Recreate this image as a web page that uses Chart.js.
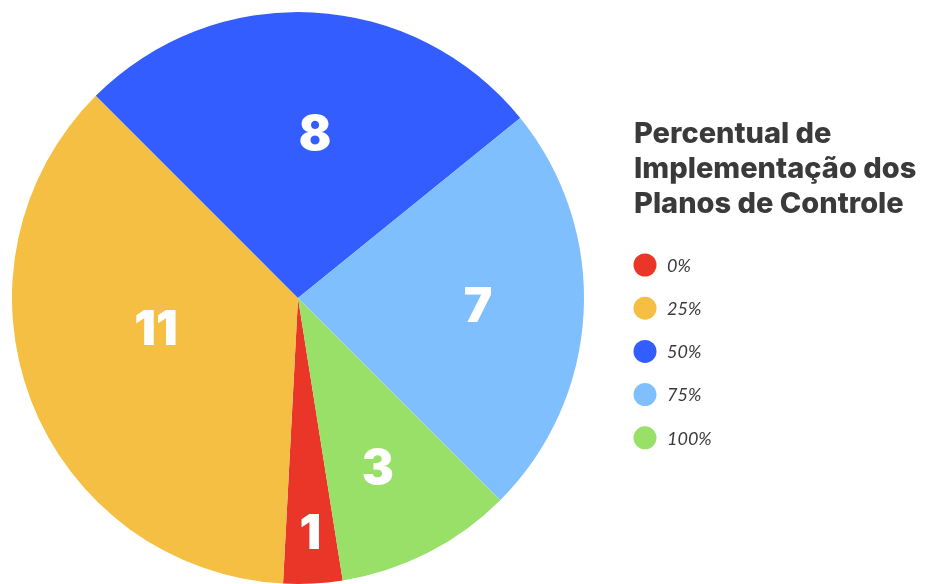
<!DOCTYPE html>
<html lang="pt-BR">
<head>
<meta charset="utf-8">
<title>Percentual de Implementação dos Planos de Controle</title>
<script src="https://cdn.jsdelivr.net/npm/chart.js@4.4.1/dist/chart.umd.min.js"></script>
<style>
  html, body { margin: 0; padding: 0; background: #fff; }
  #wrap { width: 926px; height: 584px; }
</style>
</head>
<body>
<div id="wrap"><canvas id="pieChart" width="926" height="584"></canvas></div>
<script>
// 데이터
const categories = ['0%', '25%', '50%', '75%', '100%'];
const planCounts = [1, 11, 8, 7, 3];
const sliceColors = ['#EA3628', '#F4BF42', '#335DFE', '#80BFFE', '#98E068'];
const legendTitle = ['Percentual de', 'Implementação dos', 'Planos de Controle'];

// 조각 위 숫자 라벨 (반지름 비율, 각도 보정)
const sliceLabels = {
  id: 'sliceLabels',
  afterDatasetsDraw(chart, args, opts) {
    const ctx = chart.ctx;
    const meta = chart.getDatasetMeta(0);
    ctx.save();
    ctx.fillStyle = '#fff';
    ctx.font = '900 48px Inter, Lato, sans-serif';
    ctx.textAlign = 'center';
    ctx.textBaseline = 'middle';
    meta.data.forEach((arc, i) => {
      const p = arc.getProps(['x', 'y', 'startAngle', 'endAngle', 'outerRadius']);
      const mid = (p.startAngle + p.endAngle) / 2 + (opts.shift[i] || 0) * Math.PI / 180;
      const r = p.outerRadius * opts.radius[i];
      ctx.fillText(chart.data.datasets[0].data[i], p.x + Math.cos(mid) * r, p.y + Math.sin(mid) * r);
    });
    ctx.restore();
  }
};

// 오른쪽 범례 (제목 + 원형 마커)
const sideLegend = {
  id: 'sideLegend',
  afterDraw(chart, args, opts) {
    const ctx = chart.ctx;
    const ds = chart.data.datasets[0];
    ctx.save();
    ctx.fillStyle = opts.color;
    ctx.textAlign = 'left';
    ctx.textBaseline = 'alphabetic';
    ctx.font = '800 29px Inter, Lato, sans-serif';
    legendTitle.forEach((line, i) => {
      ctx.fillText(line, opts.x, opts.titleTop + i * opts.titleLine);
    });
    ctx.font = 'italic 18px Lato, "DejaVu Sans", sans-serif';
    ctx.textBaseline = 'middle';
    chart.data.labels.forEach((label, i) => {
      const cy = opts.itemTop + i * opts.itemGap;
      ctx.beginPath();
      ctx.fillStyle = ds.backgroundColor[i];
      ctx.arc(opts.x + 11, cy, 11.5, 0, Math.PI * 2);
      ctx.fill();
      ctx.fillStyle = opts.color;
      ctx.fillText(label, opts.x + 33, cy + 1);
    });
    ctx.restore();
  }
};

new Chart(document.getElementById('pieChart'), {
  type: 'pie',
  data: {
    labels: categories,
    datasets: [{
      data: planCounts,
      backgroundColor: sliceColors,
      borderWidth: 0
    }]
  },
  options: {
    responsive: false,
    animation: false,
    rotation: 171,
    layout: { padding: { left: 12, top: 12, right: 342, bottom: 0 } },
    plugins: {
      tooltip: { enabled: false },
      legend: { display: false },
      sliceLabels: {
        radius: [0.83, 0.51, 0.57, 0.63, 0.66],
        shift: [0, 8, 3, 0, 2]
      },
      sideLegend: {
        x: 634,
        titleTop: 143,
        titleLine: 35,
        itemTop: 265,
        itemGap: 43.2,
        color: '#3a3a3a'
      }
    }
  },
  plugins: [sliceLabels, sideLegend]
});
</script>
</body>
</html>
